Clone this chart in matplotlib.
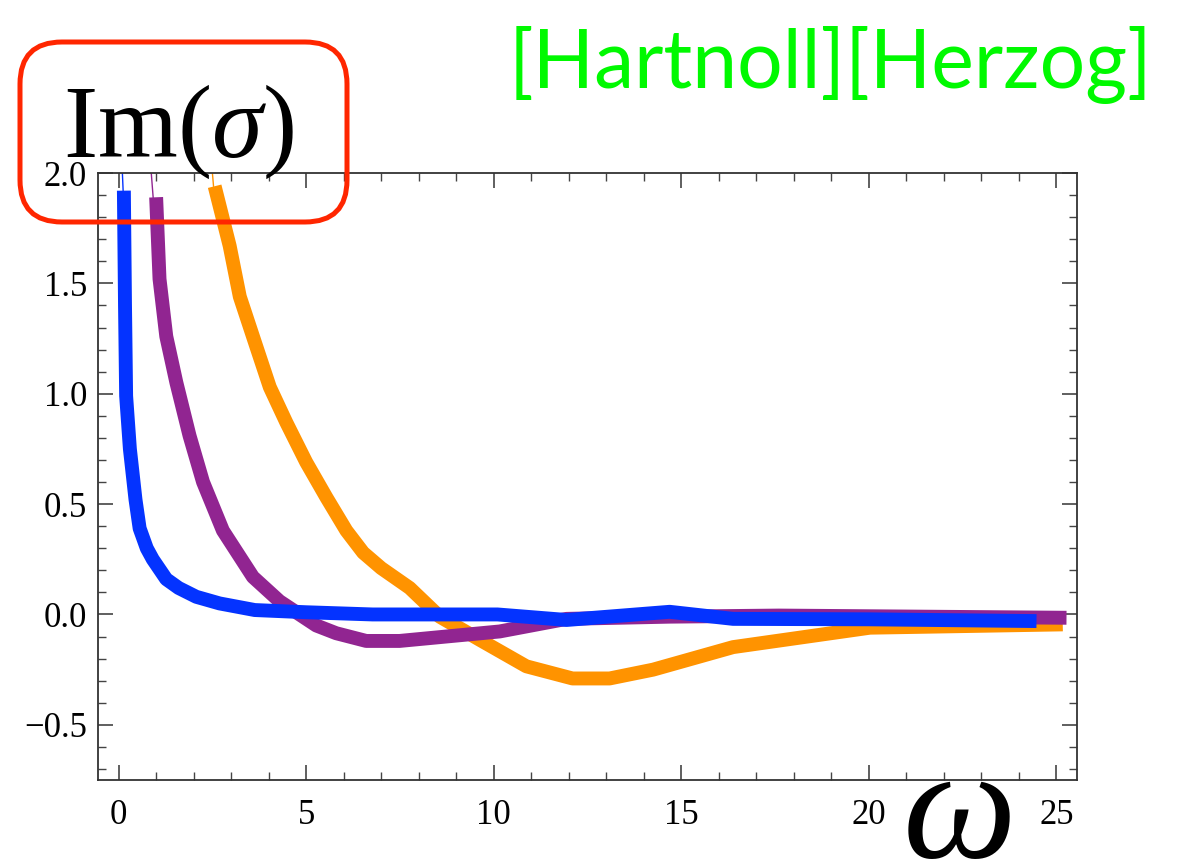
import matplotlib
matplotlib.use("Agg")
import matplotlib.pyplot as plt
from matplotlib.patches import FancyBboxPatch
from matplotlib.ticker import MultipleLocator

# ---- data ----
blue_x = [0.14, 0.17, 0.20, 0.30, 0.45, 0.56, 0.75, 0.91, 1.27, 1.60, 2.07, 2.69, 3.63, 5.0, 6.77, 8.5, 10.1, 11.94, 14.69, 16.38, 20.0, 24.47]
blue_y = [1.92, 1.40, 0.99, 0.75, 0.52, 0.39, 0.30, 0.25, 0.16, 0.12, 0.08, 0.05, 0.02, 0.01, 0.00, 0.00, 0.00, -0.025, 0.012, -0.02, -0.022, -0.03]

purple_x = [1.00, 1.09, 1.27, 1.54, 1.89, 2.25, 2.78, 3.58, 4.29, 5.27, 5.80, 6.60, 7.49, 10.16, 11.94, 14.69, 17.6, 25.27]
purple_y = [1.89, 1.52, 1.26, 1.05, 0.81, 0.60, 0.38, 0.17, 0.06, -0.05, -0.085, -0.12, -0.12, -0.077, -0.02, -0.01, -0.005, -0.015]

orange_x = [2.56, 2.96, 3.23, 3.58, 4.03, 4.47, 5.00, 5.54, 6.07, 6.52, 7.00, 7.76, 8.56, 9.63, 10.87, 12.10, 13.09, 14.25, 16.38, 20.03, 25.17]
orange_y = [1.94, 1.67, 1.44, 1.26, 1.03, 0.87, 0.69, 0.53, 0.38, 0.28, 0.21, 0.12, -0.01, -0.115, -0.235, -0.29, -0.29, -0.25, -0.148, -0.06, -0.045]

# thin continuation above the visible range (clipped at y = 2)
blue_thin_x, blue_thin_y = [0.10, 0.12], [2.0, 1.92]
purple_thin_x, purple_thin_y = [0.87, 0.92], [2.0, 1.89]
orange_thin_x, orange_thin_y = [2.50, 2.53], [2.0, 1.94]

xticks = [0, 5, 10, 15, 20, 25]
yticks = [-0.5, 0.0, 0.5, 1.0, 1.5, 2.0]
ytick_labels = ["\u22120.5", "0.0", "0.5", "1.0", "1.5", "2.0"]

BLUE = "#0433ff"
PURPLE = "#912591"
ORANGE = "#ff9300"
RED = "#ff2600"
GREEN = "#00f900"

plt.rcParams["mathtext.fontset"] = "custom"
plt.rcParams["mathtext.rm"] = "Liberation Serif"
plt.rcParams["mathtext.it"] = "Liberation Serif:italic"

fig = plt.figure(figsize=(11.84, 8.60), dpi=100)
ax = fig.add_axes([98/1184, 80/860, (1077-98)/1184, (780-173)/860])

serif = ["Liberation Serif", "DejaVu Serif"]

lw = 10
for tx, ty, x, y, c in [(orange_thin_x, orange_thin_y, orange_x, orange_y, ORANGE),
                        (purple_thin_x, purple_thin_y, purple_x, purple_y, PURPLE),
                        (blue_thin_x, blue_thin_y, blue_x, blue_y, BLUE)]:
    ax.plot(tx, ty, color=c, lw=1.0, clip_on=True)
    ax.plot(x, y, color=c, lw=lw, solid_capstyle="butt", solid_joinstyle="round")

ax.set_xlim(-0.55, 25.55)
ax.set_ylim(-0.75, 2.0)
ax.set_xticks(xticks)
ax.set_xticklabels([str(t) for t in xticks])
ax.set_yticks(yticks)
ax.set_yticklabels(ytick_labels)
ax.xaxis.set_minor_locator(MultipleLocator(1))
ax.yaxis.set_minor_locator(MultipleLocator(0.1))
ax.tick_params(which="both", direction="in", top=True, right=True, color="#444444")
ax.tick_params(which="major", length=11, width=1.2)
ax.tick_params(which="minor", length=6, width=1.0)
ax.tick_params(axis="x", which="major", pad=14)
ax.tick_params(axis="y", which="major", pad=8)
for lab in ax.get_xticklabels() + ax.get_yticklabels():
    lab.set_family(serif)
    lab.set_fontsize(25)
for s in ax.spines.values():
    s.set_color("#333333")
    s.set_linewidth(1.3)

# red rounded box (in inches, figure is 11.84 x 8.60 in)
box = FancyBboxPatch((0.20, 6.38), 3.27, 1.80,
                     boxstyle="round,pad=0,rounding_size=0.42", transform=fig.dpi_scale_trans,
                     fill=False, edgecolor=RED, linewidth=3.6, zorder=10)
fig.patches.append(box)
fig.text(63/1184, 1 - 157/860, r"$\mathrm{Im}(\sigma)$", fontsize=74, color="black",
         ha="left", va="baseline", zorder=11)

# omega axis label
fig.text(956/1184, 1 - 857/860, r"$\omega$", fontsize=116,
         color="black", ha="center", va="baseline")

# green reference text
fig.text(1152/1184, 1 - 88/860, "[Hartnoll][Herzog]", family=["Lato", "DejaVu Sans"],
         fontsize=58, color=GREEN, ha="right", va="baseline")

fig.savefig("out.png", dpi=100)
